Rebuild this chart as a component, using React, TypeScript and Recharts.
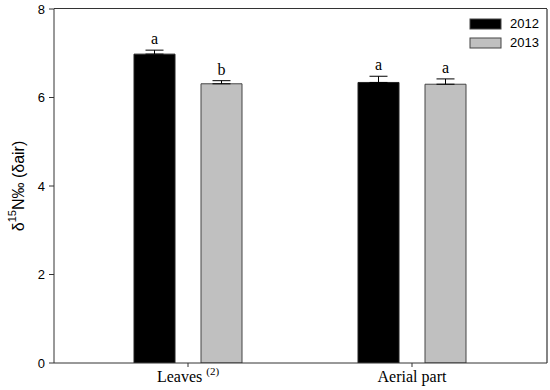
import * as Recharts from "recharts"
import { BarChart, Bar, XAxis, YAxis, ErrorBar, LabelList } from "recharts"

const categories = ["Leaves", "Aerial part"]
const categoryNotes = ["(2)", ""]
const values2012 = [6.98, 6.34]
const values2013 = [6.31, 6.3]
const err2012 = [0.09, 0.14]
const err2013 = [0.07, 0.12]
const letters2012 = ["a", "a"]
const letters2013 = ["b", "a"]
const yTicks = [0, 2, 4, 6, 8]
const seriesNames = ["2012", "2013"]
const seriesColors = ["#000000", "#c0c0c0"]

const data = categories.map((name, i) => ({
  name,
  y2012: values2012[i],
  y2013: values2013[i],
  e2012: [0, err2012[i]],
  e2013: [0, err2013[i]],
}))

const sans = "'Liberation Sans', Arial, sans-serif"
const serif = "'Liberation Serif', 'Times New Roman', serif"

const W = 550
const H = 390
const margin = { top: 9, right: 3, left: 0, bottom: 0 }
const yAxisWidth = 54

const usePlotArea: () => any = (Recharts as any).usePlotArea ?? (() => null)

// right edge of the box
function Frame() {
  const area = usePlotArea()
  if (!area) return null
  return (
    <line
      x1={area.x + area.width}
      x2={area.x + area.width}
      y1={area.y}
      y2={area.y + area.height}
      stroke="#333"
      strokeWidth={1.2}
    />
  )
}

function CategoryTick(props: any) {
  const { x, y, payload, index } = props
  const note = categoryNotes[index] ?? ""
  return (
    <text x={x} y={y} dy="0.8em" textAnchor="middle" fontFamily={serif} fontSize={16} fill="#000">
      {payload.value}
      {note ? <tspan dx={4} dy={-7} fontSize={11}>{note}</tspan> : null}
    </text>
  )
}

function YLabel(props: any) {
  const { viewBox } = props
  const cx = 18
  const cy = viewBox.y + viewBox.height / 2
  return (
    <text
      x={cx}
      y={cy}
      transform={`rotate(-90 ${cx} ${cy})`}
      textAnchor="middle"
      dominantBaseline="central"
      fontFamily={sans}
      fontSize={16}
      fill="#000"
    >
      δ
      <tspan dy={-6} fontSize={11}>15</tspan>
      <tspan dy={6}>N‰ (δair)</tspan>
    </text>
  )
}

function letterLabel(letters: string[], errs: number[]) {
  return (props: any) => {
    const { x, y, width, height, index } = props
    const val = props.value as number
    const perUnit = val ? height / val : 0
    const top = y - errs[index] * perUnit
    return (
      <text x={x + width / 2} y={top - 6} textAnchor="middle" fontFamily={serif} fontSize={16} fill="#000">
        {letters[index]}
      </text>
    )
  }
}

function LegendBox() {
  return (
    <div style={{ position: "absolute", top: 14, left: 469, fontFamily: sans, fontSize: 13, color: "#000" }}>
      {seriesNames.map((label, i) => (
        <div key={label} style={{ display: "flex", alignItems: "center", height: 19 }}>
          <svg width={34} height={12} style={{ marginRight: 7 }}>
            <rect x={1} y={1} width={31} height={10} fill={seriesColors[i]} stroke="#444" strokeWidth={1} />
          </svg>
          <span>{label}</span>
        </div>
      ))}
    </div>
  )
}

export default function App() {
  return (
    <div style={{ position: "absolute", left: 0, top: 0, width: W, height: H, background: "#fff" }}>
      <BarChart width={W} height={H} data={data} margin={margin} barSize={41} barGap={26}>
        <XAxis
          dataKey="name"
          height={27}
          padding={{ left: 22, right: 23 }}
          tick={<CategoryTick />}
          tickSize={4}
          tickMargin={2}
          axisLine={{ stroke: "#333" }}
          tickLine={{ stroke: "#333" }}
        />
        <YAxis
          domain={[0, 8]}
          ticks={yTicks}
          width={yAxisWidth}
          tickSize={5}
          tickMargin={4}
          interval={0}
          allowDataOverflow
          axisLine={{ stroke: "#333" }}
          tickLine={{ stroke: "#333" }}
          tick={{ fontFamily: sans, fontSize: 13, fill: "#000" }}
          label={<YLabel />}
        />
        <Frame />
        <Bar dataKey="y2012" name={seriesNames[0]} fill={seriesColors[0]} stroke="#222" strokeWidth={1} isAnimationActive={false}>
          <ErrorBar dataKey="e2012" width={9} stroke="#000" strokeWidth={1} />
          <LabelList dataKey="y2012" content={letterLabel(letters2012, err2012)} />
        </Bar>
        <Bar dataKey="y2013" name={seriesNames[1]} fill={seriesColors[1]} stroke="#444" strokeWidth={1} isAnimationActive={false}>
          <ErrorBar dataKey="e2013" width={9} stroke="#000" strokeWidth={1} />
          <LabelList dataKey="y2013" content={letterLabel(letters2013, err2013)} />
        </Bar>
      </BarChart>
      {/* top edge of the plot box, laid over the chart */}
      <div
        style={{
          position: "absolute",
          top: margin.top - 1,
          left: margin.left + yAxisWidth,
          width: W - margin.left - margin.right - yAxisWidth,
          height: 0,
          borderTop: "1.5px solid #333",
          pointerEvents: "none",
        }}
      />
      <LegendBox />
    </div>
  )
}
